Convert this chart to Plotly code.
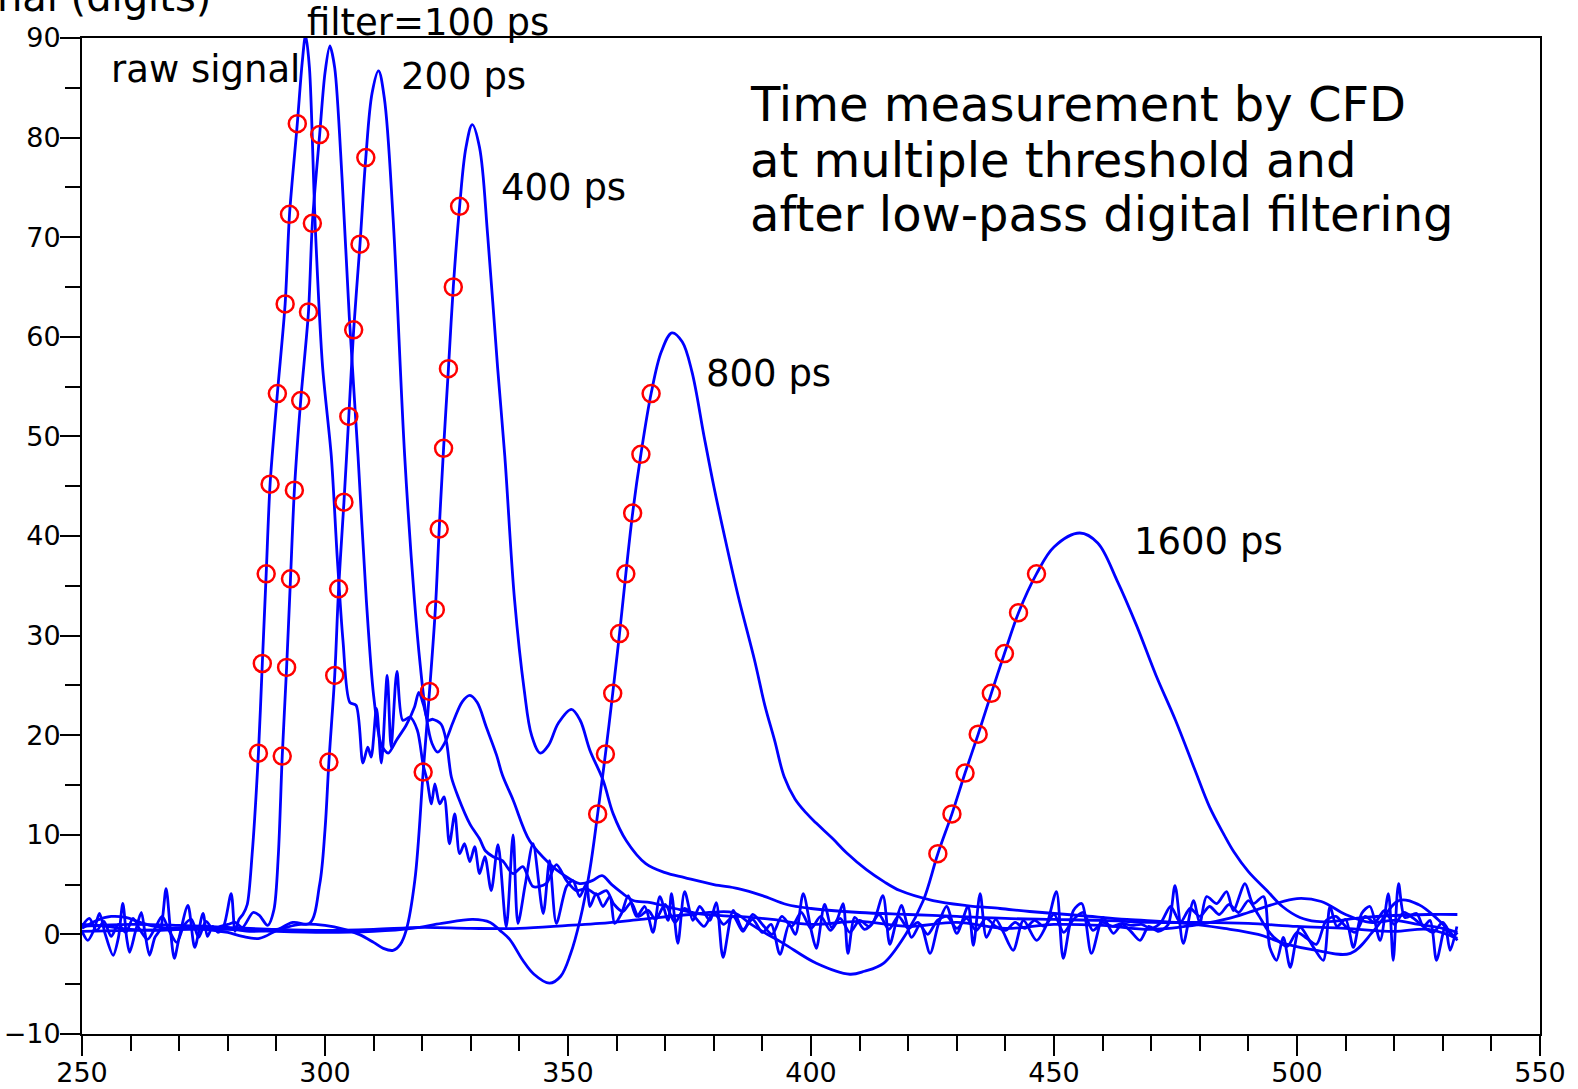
import plotly.graph_objects as go

# ---------------- data ----------------
raw_x = [250, 251.2, 252.5, 253.6, 254.8, 256.4, 257.5, 258.4, 259.2, 259.8, 261, 262.2, 263, 263.9, 265, 266.2,
         267.3, 268.2, 269.0, 270, 271.8, 273.2, 274.9, 275.8, 276.9, 278, 279.2, 280.7, 281.5, 282.3, 283.1, 284,
         285, 286.3, 287.1, 287.9, 288.7, 290.2, 291.8, 292.7, 294.3, 295.3, 296, 296.8, 298, 299.5, 301.3, 302.5,
         303.7, 305.1, 306.4, 307.8, 308.8, 309.5, 310.6, 311.6, 312.8, 313.6, 314.8, 316.0, 317.5, 319.0, 320.2,
         321.0, 321.9, 322.6, 323.6, 324.5, 325.6, 326.7, 327.7, 328.7, 329.8, 330.8, 331.8, 332.9, 334.2, 335.6,
         337.3, 338.7, 339.7, 341.2, 342.8, 344.9, 346.2, 347.6, 349.7, 351, 352.4, 353.8, 354.5, 355.8, 357.2,
         358.6, 359.6, 361, 362.4, 364.1, 365.8, 367.5, 368.9, 370.6, 371.3, 372.6, 374.0, 375.7, 377.1, 379.2,
         380.5, 381.9, 384, 386, 388, 390, 391.8, 393.6, 395.5, 396.8, 398.4, 400, 401.1, 402.8, 404.2, 405.4,
         406.6, 407.6, 409, 411, 412.8, 414.8, 416.2, 417.4, 418.6, 420.7, 422.5, 424.5, 426.2, 427.9, 430, 432.3,
         433.4, 434.8, 436.1, 438, 439.5, 441.6, 443.7, 446.4, 448.5, 450.5, 451.9, 454, 455.7, 457.7, 460.1,
         462.2, 464, 465.8, 467.7, 469.5, 471.5, 473.5, 474.9, 476.6, 478.7, 480.0, 481.4, 483.5, 485.5, 486.9,
         489.3, 491, 493.1, 494.4, 495.8, 497.2, 498.6, 500.6, 503.4, 505.4, 506.8, 508.2, 510, 511.6, 513.3, 515,
         517.1, 518.8, 519.8, 520.9, 522.2, 524.6, 526, 527.4, 528.7, 530.5, 531.5, 532.9]
raw_y = [0.3, -0.6, 0.5, 2.1, 0.0, -2.1, -0.3, 3.1, -0.4, -1.8, 0.3, 2.2, 0.0, -2.1, -0.3, 0.6,
         4.6, 0.4, -2.4, -0.3, 2.9, -1.3, 2.1, -0.2, 0.8, 0.2, 0.9, 4.1, 0.3, 1.5, 2.0, 3.0,
         8.0, 18.2, 27.2, 36.2, 45.2, 54.3, 63.3, 72.3, 81.4, 87.5, 90.3, 87, 71, 57, 48, 38,
         29.5, 23.3, 23.0, 17.2, 18.8, 17.8, 22.7, 17.2, 26.0, 18.8, 26.4, 21.5, 21.8, 20.5, 17.0,
         15.5, 13.1, 15.1, 13.1, 13.8, 9.1, 12.1, 8.1, 9.1, 7.3, 8.8, 6.1, 7.8, 4.4, 9.0,
         0.75, 10.0, 1.1, 5.0, 9.1, 2.1, 7.4, 1.1, 4.8, 5.4, 3.8, 5.1, 2.8, 4.1, 2.8,
         3.8, 1.1, 2.1, 3.9, 1.8, 2.8, 0.2, 3.8, 1.4, 4.1, -0.9, 4.3, 1.4, 2.8, 1.4,
         3.2, -2.3, 2.4, 0.5, 1.5, 0.2, 1.0, -2.0, 1.0, 0.0, 4.1, 0.5, -1.4, 3.0, 0.7, 1.5,
         3.1, -1.9, 1.7, 0.5, 1.2, 3.9, -1.0, 1.0, 2.9, -0.3, 1.0, -1.9, 1.0, 2.8, 0.1, 2.8,
         -1.1, 4.1, -0.3, 1.5, 0.3, -1.6, 1.4, -0.6, 1.0, 4.3, -2.4, 2.4, 3.1, -1.9, 1.7,
         0.1, 1.0, 0.3, -0.6, 0.8, 0.3, 1.0, 4.9, -0.9, 3.4, 1.1, 3.8, 3.1, 4.3, 2.4,
         5.1, 3.1, 3.8, -1.3, -2.6, -0.3, -3.3, 0.7, -1.3, -2.6, 2.8, 0.8, 1.5, -1.3, 2.1, 2.8,
         -0.6, 4.1, -2.6, 5.1, 1.7, 2.1, 0.8, 1.4, -2.6, 0.8, -1.6, 0.8]

f100_x = [250, 251.5, 253, 254.5, 256, 257.5, 259, 260.5, 262, 263.5, 265, 266.5, 268, 269.5, 271, 272.5, 274,
          275.5, 277, 278.5, 280, 281.5, 283, 285.2, 286.5, 288.2, 289.5, 290.4, 291.2, 292.1, 292.9, 293.7,
          295.0, 296.6, 297.4, 298.9, 300, 301, 302, 303.5, 305, 306.8, 308.5, 310, 311.6, 313, 314.7, 316.7,
          318.4, 319.3, 320.3, 321.2, 322.2, 323.9, 325.0, 326.0, 327.4, 329.8, 331.8, 333, 334.6, 336.5, 338.7,
          340.7, 342.8, 345.5, 347.6, 349.7, 351.7, 353.8, 356, 357.9, 359.5, 361.3, 363, 364.5, 366.5, 368, 370,
          372, 374, 376, 378, 380, 382, 384, 386, 388, 390, 392, 394, 396, 398, 400, 402, 404, 406, 408, 410, 412,
          414, 416, 418, 420, 422, 424, 426, 428, 430, 432, 434, 436, 438, 440, 442, 444, 446, 448, 450, 452, 454,
          456, 458, 460, 462, 464, 466, 468, 470, 472, 474, 476, 478, 480, 482, 484, 486, 488, 490, 492, 494, 496,
          498, 500, 502, 504, 506, 508, 510, 512, 514, 516, 518, 520, 522, 524, 526, 528, 530, 532, 533]
f100_y = [0.8, 1.6, 0.4, 1.3, -0.2, 1.0, 0.2, 1.6, 0.4, -0.5, 0.6, 1.8, 0.3, -0.8, 0.9, 1.5, -0.3,
          1.3, 0.5, 0.8, 1.0, 1.2, 0.7, 2.2, 1.9, 0.9, 2.5, 8.0, 17.9, 26.8, 35.7, 44.6,
          53.6, 62.5, 71.4, 80.3, 86.5, 89.2, 87, 76, 62, 48, 33.6, 24, 19, 18.2, 19.5, 21,
          22.8, 24.3, 23, 21.5, 21.6, 21.1, 19.3, 15.8, 13.8, 11.1, 9.6, 8.4, 7.8, 7.4, 6.1,
          6.8, 4.8, 5.1, 7.0, 5.4, 4.4, 4.6, 4.0, 4.4, 3.0, 2.3, 3.2, 1.8, 2.4, 1.5, 3.0,
          1.2, 2.6, 1.8, 0.8, 2.2, 1.0, 1.8, 0.3, 2.0, 1.0, 0.0, 1.8, 0.8, 2.2, 0.6, 1.8, 0.4, 1.6, 0.2, 1.4, 0.8,
          2.0, 0.5, 1.8, 0.6, 1.2, 0.0, 1.4, 1.8, 0.6, 1.6, 0.4, 1.6, 0.8, 0.4, 1.2, 0.6, 1.4, 0.8, 2.0, 0.2, 1.5,
          2.2, 0.4, 1.2, 0.8, 1.1, 0.9, 1.0, 0.6, 1.2, 2.8, 1.2, 2.6, 1.8, 2.8, 2.0, 3.0, 2.2, 3.4, 2.0, 0.4, -0.6,
          -1.2, 0.2, -0.4, -1.0, 1.4, 1.8, 0.8, 0.2, 1.8, 1.2, 2.4, 1.0, 2.2, 1.6, 0.8, 0.2, 1.2, -0.2, 0.2]

f200_x = [250, 253, 256, 259, 262, 265, 268, 271, 274, 277, 280, 283, 286.5, 290, 293.4, 296.8, 298.9, 300,
          300.8, 302.0, 302.8, 303.9, 304.9, 305.9, 307.2, 308.4, 309.7, 311, 312.2, 314, 316.4, 318.4, 319.6,
          320.8, 322, 323.2, 324.6, 326.5, 328.3, 329.8, 331.3, 333.2, 335.3, 336.5, 338.7, 342.1, 346.2, 349,
          352.4, 355, 357, 359, 361.3, 363.4, 367, 372, 378, 385, 392, 400, 410, 420, 430, 440, 450, 460, 470,
          480, 486, 490, 495, 500, 505, 510, 515, 520, 525, 530, 533]
f200_y = [0.6, 1.4, 1.8, 1.7, 1.2, 0.8, 0.6, 0.7, 0.6, 0.4, 0.2, -0.2, -0.4, 0.4, 1.2, 1.1, 5.0, 10.5,
          17.3, 26.0, 34.7, 43.4, 52.0, 60.7, 69.3, 78.0, 84.5, 86.7, 84, 72, 48, 33.6, 27,
          22, 19.2, 18.3, 19.2, 21.5, 23.4, 24.0, 23.3, 20.8, 18.0, 16.0, 13.5, 9.4, 7.1, 6.0,
          5.1, 5.4, 5.9, 5.0, 4.1, 3.4, 3.2, 2.6, 2.0, 1.8, 1.5, 1.0, 1.3, 0.8, 1.2, 0.6, 1.0, 0.9, 0.5,
          1.0, 1.6, 2.2, 3.0, 3.6, 3.3, 2.0, 1.2, 1.4, 1.0, 0.6, 0.2]

f400_x = [250, 255, 260, 265, 270, 275, 280, 285, 290, 295, 300, 304, 307, 310, 312, 314, 315.5, 316.7, 318.5,
          320.2, 321.5, 322.7, 323.5, 324.4, 325.4, 326.4, 327.7, 329, 330.3, 331.8, 333.5, 335.5, 337, 339, 341,
          342.5, 344.3, 346, 348, 350.7, 352.5, 354.5, 357.2, 359.3, 362, 366, 370, 374, 380, 385, 390, 395, 400,
          410, 420, 430, 440, 450, 460, 470, 480, 490, 500, 510, 520, 527, 533]
f400_y = [1.0, 0.8, 0.5, 0.4, 0.5, 0.7, 0.6, 0.3, 0.5, 1.0, 0.9, 0.5, 0.0, -0.8, -1.4, -1.6, -1.0, 0.4, 5.5,
          16.3, 24.4, 32.6, 40.7, 48.8, 56.8, 65.0, 73.1, 79, 81.3, 79, 70, 57, 48, 33.6, 24.5,
          20, 18.2, 19, 21.2, 22.6, 21.5, 18.5, 15.5, 12.1, 9.4, 7.1, 6.2, 5.7, 5.0, 4.6, 3.9, 3.0, 2.6,
          2.2, 2.0, 1.8, 1.6, 1.5, 1.4, 1.2, 1.2, 1.1, 0.8, 0.6, 0.3, 0.5, -0.4]

f800_x = [250, 260, 270, 280, 290, 300, 310, 318, 324, 330.4, 334, 336, 338, 340.7, 343, 346.2, 348.5, 350.5,
          352.5, 354.5, 356.1, 357.7, 359.2, 360.6, 361.9, 363.3, 365.0, 367.1, 369.2, 371.4, 373.5, 375.5, 378,
          380, 382.2, 385, 388.4, 390.5, 392.5, 394.5, 396.7, 399, 401, 404.5, 407.3, 411.4, 415, 418.3, 425.1,
          432, 438.9, 445, 455.3, 465, 475, 485, 492, 498, 504, 511, 516, 521, 525, 529, 533]
f800_y = [0.3, 0.4, 0.5, 0.5, 0.3, 0.2, 0.3, 0.6, 1.1, 1.5, 1.2, 0.4, -0.5, -2.6, -4.0, -4.9, -4.2, -2.0,
          1.5, 6.5, 12.1, 18.1, 24.2, 30.2, 36.2, 42.3, 48.2, 54.3, 58.5, 60.4, 59.5, 56.5, 50,
          45, 40, 34, 27.5, 23, 19.5, 15.8, 13.6, 12.2, 11.2, 9.6, 8.2, 6.5, 5.3, 4.4, 3.4,
          2.9, 2.6, 2.3, 1.9, 1.5, 1.2, 0.6, 0.0, -1.0, -1.6, -1.9, 0.5, 3.4, 3.0, 1.5, -0.6]

f1600_x = [250, 260, 270, 280, 290, 300, 310, 320, 330, 340, 350, 356.5, 365, 375, 384, 387.4, 390, 394.3,
           401.1, 408, 411, 414.9, 419.6, 423.1, 426.1, 429.0, 431.7, 434.4, 437.1, 439.8, 442.7, 446.4, 450,
           455.3, 459, 463, 467, 471, 475, 479, 482, 485, 487, 490, 493.8, 497, 500.6, 504, 507.5, 512, 520,
           527, 533]
f1600_y = [0.8, 1.0, 0.9, 0.7, 0.5, 0.4, 0.5, 0.7, 0.6, 0.6, 0.9, 1.1, 1.5, 2.0, 2.2, 1.1, 0.3, -0.9,
           -2.9, -4.0, -3.7, -2.9, 0.1, 3.4, 8.1, 12.1, 16.2, 20.1, 24.2, 28.2, 32.3, 36.2, 38.9,
           40.3, 39.3, 35.5, 31, 26, 21.5, 16.5, 12.8, 10.0, 8.3, 6.3, 4.4, 2.8, 1.7, 1.3, 1.3, 1.6, 1.9,
           2.0, 2.0]

# CFD threshold crossings (red circles)
cfd_raw_x = [286.3, 287.1, 287.9, 288.7, 290.2, 291.8, 292.7, 294.3]
cfd_raw_y = [18.2, 27.2, 36.2, 45.2, 54.3, 63.3, 72.3, 81.4]
cfd_100_x = [291.2, 292.1, 292.9, 293.7, 295.0, 296.6, 297.4, 298.9]
cfd_100_y = [17.9, 26.8, 35.7, 44.6, 53.6, 62.5, 71.4, 80.3]
cfd_200_x = [300.8, 302.0, 302.8, 303.9, 304.9, 305.9, 307.2, 308.4]
cfd_200_y = [17.3, 26.0, 34.7, 43.4, 52.0, 60.7, 69.3, 78.0]
cfd_400_x = [320.2, 321.5, 322.7, 323.5, 324.4, 325.4, 326.4, 327.7]
cfd_400_y = [16.3, 24.4, 32.6, 40.7, 48.8, 56.8, 65.0, 73.1]
cfd_800_x = [356.1, 357.7, 359.2, 360.6, 361.9, 363.3, 365.0, 367.1]
cfd_800_y = [12.1, 18.1, 24.2, 30.2, 36.2, 42.3, 48.2, 54.3]
cfd_1600_x = [426.1, 429.0, 431.7, 434.4, 437.1, 439.8, 442.7, 446.4]
cfd_1600_y = [8.1, 12.1, 16.2, 20.1, 24.2, 28.2, 32.3, 36.2]

curve_labels = ["raw signal", "filter=100 ps", "200 ps", "400 ps", "800 ps", "1600 ps"]
label_x = [255.5, 295.8, 315.3, 335.8, 378.0, 466.0]
label_y = [86.8, 91.6, 86.1, 75.0, 56.3, 39.4]

title_lines = ["Time measurement by CFD", "at multiple threshold and", "after low-pass digital filtering"]
title_x = 387.0
title_y = [83.4, 77.8, 72.35]

x_ticks = [250, 300, 350, 400, 450, 500, 550]
y_ticks = [-10, 0, 10, 20, 30, 40, 50, 60, 70, 80, 90]

# ---------------- figure ----------------
FONT = "DejaVu Sans"
BLUE = "#0000ff"
fig = go.Figure()

curves = [(raw_x, raw_y, 0.8), (f100_x, f100_y, 0.8), (f200_x, f200_y, 1.0), (f400_x, f400_y, 1.0),
          (f800_x, f800_y, 1.0), (f1600_x, f1600_y, 1.0)]
for cx, cy, sm in curves:
    fig.add_trace(go.Scatter(x=cx, y=cy, mode="lines", cliponaxis=True,
                             line=dict(color=BLUE, width=2.8, shape="spline", smoothing=sm),
                             showlegend=False, hoverinfo="skip"))

markers = [(cfd_raw_x, cfd_raw_y), (cfd_100_x, cfd_100_y), (cfd_200_x, cfd_200_y), (cfd_400_x, cfd_400_y),
           (cfd_800_x, cfd_800_y), (cfd_1600_x, cfd_1600_y)]
for mx, my in markers:
    fig.add_trace(go.Scatter(x=mx, y=my, mode="markers",
                             marker=dict(symbol="circle-open", size=17, color="#ff0000",
                                         line=dict(width=2.5, color="#ff0000")),
                             showlegend=False, hoverinfo="skip"))

YMIN, YMAX = -10, 90
annotations = []
for t, lx, ly in zip(curve_labels, label_x, label_y):
    annotations.append(dict(x=lx, y=(ly - YMIN) / (YMAX - YMIN), xref="x", yref="paper", text=t,
                            showarrow=False, xanchor="left", yanchor="middle",
                            font=dict(family=FONT, size=37, color="black")))
for t, ty in zip(title_lines, title_y):
    annotations.append(dict(x=title_x, y=ty, xref="x", yref="y", text=t, showarrow=False,
                            xanchor="left", yanchor="middle",
                            font=dict(family=FONT, size=48, color="black")))
annotations.append(dict(x=0.0897, y=1.041, xref="paper", yref="paper", text="Signal (digits)",
                        showarrow=False, xanchor="right", yanchor="middle",
                        font=dict(family=FONT, size=40, color="black")))

axis_common = dict(showgrid=False, zeroline=False, showline=True, linecolor="black", linewidth=2,
                   mirror=True, ticks="outside", tickwidth=2, tickcolor="black", ticklen=20,
                   automargin=False,
                   tickfont=dict(family=FONT, size=27, color="black"))

fig.update_layout(
    width=1578, height=1089,
    margin=dict(l=82, r=38, t=38, b=55, pad=0),
    paper_bgcolor="white", plot_bgcolor="white",
    xaxis=dict(range=[250, 550], tickvals=x_ticks, ticklabelstandoff=-6,
               minor=dict(dtick=10, tick0=250, ticks="outside", ticklen=15, tickwidth=2, tickcolor="black"),
               **axis_common),
    yaxis=dict(range=[YMIN, YMAX], tickvals=y_ticks, ticklabelstandoff=-6,
               minor=dict(dtick=5, tick0=0, ticks="outside", ticklen=15, tickwidth=2, tickcolor="black"),
               **axis_common),
    annotations=annotations,
)

fig.write_html("out.html")
